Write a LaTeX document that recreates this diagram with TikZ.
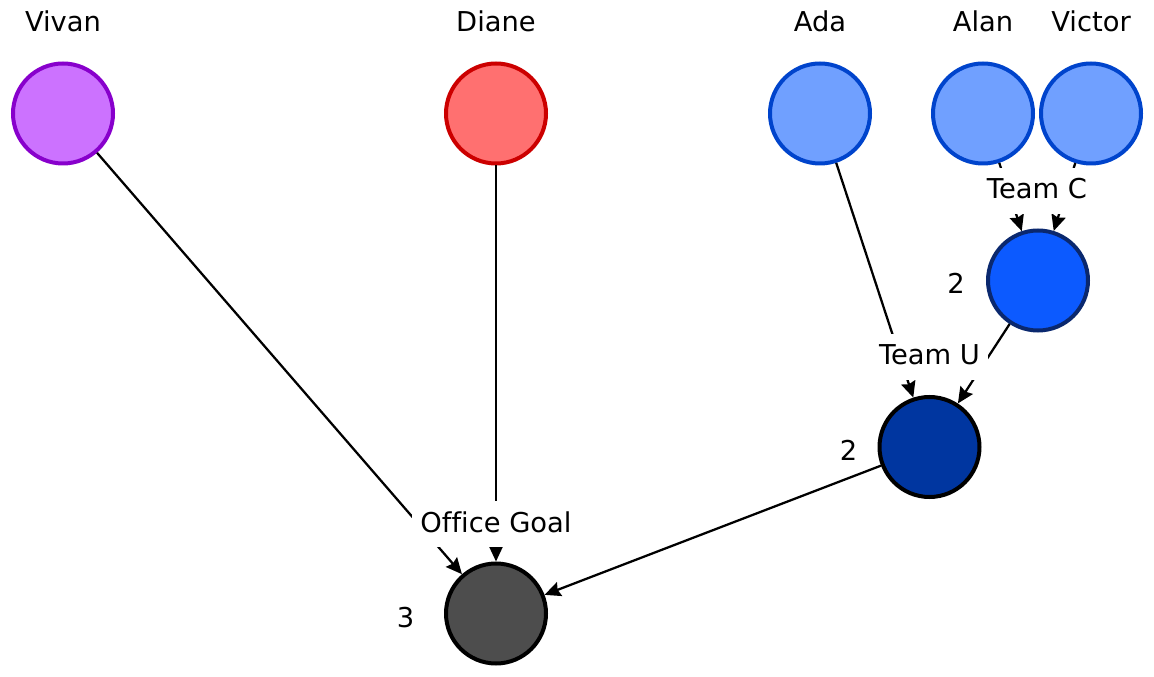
\documentclass[tikz,border=0pt]{standalone}
\usepackage{fontspec}
\setmainfont[Ligatures=NoCommon]{DejaVu Sans}
\usepackage{xcolor}
\usetikzlibrary{arrows.meta}

\definecolor{vivanfill}{RGB}{204,114,255}
\definecolor{vivanline}{RGB}{136,0,204}
\definecolor{dianefill}{RGB}{255,112,112}
\definecolor{dianeline}{RGB}{204,0,0}
\definecolor{bluefill}{RGB}{112,160,255}
\definecolor{blueline}{RGB}{0,68,204}
\definecolor{teamcfill}{RGB}{12,90,255}
\definecolor{teamcline}{RGB}{10,40,110}
\definecolor{teamufill}{RGB}{0,54,160}
\definecolor{officefill}{RGB}{77,77,77}

\begin{document}
\begin{tikzpicture}[x=0.75pt, y=-0.75pt, font=\fontsize{20.5pt}{24pt}\selectfont,
  dot/.style={circle, line width=3pt, minimum size=75pt, inner sep=0pt},
  link/.style={line width=1.7pt, -{Stealth[length=12pt, width=11pt, inset=1.5pt]}},
  tag/.style={fill=white, inner xsep=6pt, inner ysep=3.75pt, text height=19.5pt, text depth=7.5pt, anchor=base}]
\useasboundingbox (0,0) rectangle (1154,677);

\node[dot, draw=vivanline, fill=vivanfill] (vivan) at (63,113.5) {};
\node[dot, draw=dianeline, fill=dianefill] (diane) at (496,113.5) {};
\node[dot, draw=blueline, fill=bluefill] (ada) at (820,113.5) {};
\node[dot, draw=blueline, fill=bluefill] (alan) at (983,113.5) {};
\node[dot, draw=blueline, fill=bluefill] (victor) at (1091,113.5) {};
\node[dot, draw=teamcline, fill=teamcfill] (teamc) at (1038,280.5) {};
\node[dot, draw=black, fill=teamufill] (teamu) at (929.5,447) {};
\node[dot, draw=black, fill=officefill] (office) at (496,613.5) {};

\node[anchor=base] (vivanname) at (63,32) {Vivan};
\node[anchor=base] (dianename) at (496,32) {Diane};
\node[anchor=base] (adaname) at (820,32) {Ada};
\node[anchor=base] (alanname) at (983,32) {Alan};
\node[anchor=base] (victorname) at (1091,32) {Victor};

\node[anchor=base] (teamcsize) at (956,294) {2};
\node[anchor=base] (teamusize) at (848.5,460) {2};
\node[anchor=base] (officesize) at (405.5,627) {3};

\draw[link] (alan) -- (teamc);
\draw[link] (victor) -- (teamc);
\draw[link] (ada) -- (teamu);
\draw[link] (teamc) -- (teamu);
\draw[link] (vivan) -- (office);
\draw[link] (diane) -- (office);
\draw[link] (teamu) -- (office);

\node[tag] (teamclabel) at (1037,199) {Team C};
\node[tag] (teamulabel) at (929.5,365) {Team U};
\node[tag] (officelabel) at (496,532) {Office Goal};
\end{tikzpicture}
\end{document}
